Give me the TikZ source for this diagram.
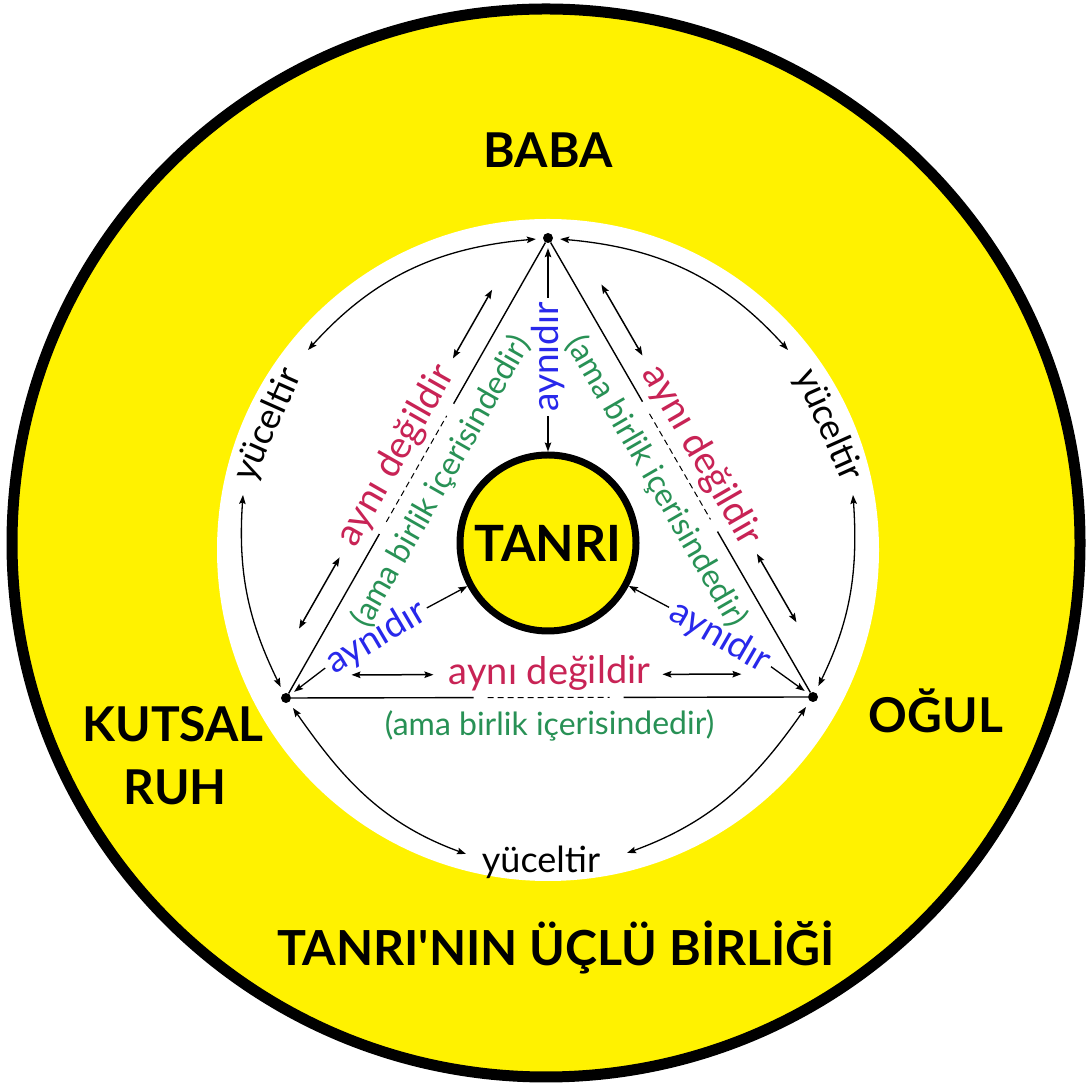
\documentclass[tikz,border=0pt]{standalone}
\usepackage{fontspec}
\setmainfont{Lato}[Ligatures=TeXOff]
\usetikzlibrary{arrows.meta,calc}
\definecolor{cyel}{RGB}{255,242,0}
\definecolor{cred}{RGB}{200,35,85}
\definecolor{cgreen}{RGB}{40,145,85}
\definecolor{cblue}{RGB}{40,40,235}
\tikzset{
  dotv/.style={circle,fill=black,inner sep=0,minimum size=10pt},
  biglbl/.style={font=\fontsize{48}{50}\selectfont\bfseries,inner sep=0},
  redtxt/.style={text=cred,font=\fontsize{38}{40}\selectfont,inner sep=0},
  greentxt/.style={text=cgreen,font=\fontsize{32}{34}\selectfont,inner sep=0},
  bluetxt/.style={text=cblue,font=\fontsize{37}{39}\selectfont,inner sep=4pt},
  ytxt/.style={text=black,font=\fontsize{36}{38}\selectfont,inner sep=0},
  edgeline/.style={line width=1.4pt},
  arcline/.style={line width=1.3pt,<->},
  sidearrow/.style={line width=1.5pt,<->},
  tip/.style={line width=1.3pt,->}
}
\newcommand{\EdgeBlock}[4]{%
  \begin{scope}[shift={($(#1)!0.5!(#2)$)},rotate=#3]
    \node[redtxt,transform shape] (#4r) at (0,24) {aynı değildir};
    \node[greentxt,transform shape] (#4g) at (0,-28) {(ama birlik içerisindedir)};
    \coordinate (#4a1) at (-198,23);
    \coordinate (#4a2) at (-116,23);
    \coordinate (#4a3) at (113,23);
    \coordinate (#4a4) at (192,23);
    \coordinate (#4e1) at (-76,0);
    \coordinate (#4e2) at (-62,0);
    \coordinate (#4e3) at (60,0);
    \coordinate (#4e4) at (74,0);
  \end{scope}
  \draw[edgeline] (#1) -- (#4e1);
  \draw[line width=1pt,dash pattern=on 6pt off 4pt] (#4e2) -- (#4e3);
  \draw[edgeline] (#4e4) -- (#2);
  \draw[sidearrow] (#4a1) -- (#4a2);
  \draw[sidearrow] (#4a3) -- (#4a4);
}
\begin{document}
\begin{tikzpicture}[x=1pt,y=1pt,>={Stealth[length=9pt,width=6.5pt,inset=1.5pt]}]
\useasboundingbox (0,0) rectangle (1092,1086);
\fill[white] (0,0) rectangle (1092,1086);
\draw[line width=11pt,fill=cyel] (546,543) circle[radius=534];
\fill[white] (548,536) circle[radius=331];

% vertices and centre
\node[dotv] (B) at (548,848) {};
\node[dotv] (K) at (286,388) {};
\node[dotv] (O) at (813,389) {};
\node[circle,draw,line width=7pt,fill=cyel,minimum size=176pt,inner sep=0,
      font=\fontsize{50}{52}\selectfont\bfseries] (T) at (548,543) {TANRI};

% big labels
\node[biglbl,anchor=base] (baba) at (548,918) {BABA};
\node[biglbl,anchor=base] (kutsal) at (173,344) {KUTSAL};
\node[biglbl,anchor=base] (ruh) at (175,281) {RUH};
\node[biglbl,anchor=base] (ogul) at (936,353) {OĞUL};
\node[biglbl,anchor=base,font=\fontsize{48.3}{50}\selectfont\bfseries] (title) at (556,120) {TANRI'NIN ÜÇLÜ BİRLİĞİ};

% edges with labels
\EdgeBlock{K}{B}{60.33}{L}
\EdgeBlock{B}{O}{-60.0}{R}
\EdgeBlock{K}{O}{0.1}{D}

% aynidir labels
\node[bluetxt,rotate=90] (at) at (548,729) {aynıdır};
\draw[tip,shorten >=5pt] (at.east) -- (B);
\draw[tip] (at.west) -- (T);
\node[bluetxt,rotate=30.6] (al) at (376,448) {aynıdır};
\draw[tip,shorten >=5pt] (al.west) -- (K);
\draw[tip] (al.east) -- (T);
\node[bluetxt,rotate=-30.2] (ar) at (720,449) {aynıdır};
\draw[tip] (ar.west) -- (T);
\draw[tip,shorten >=5pt] (ar.east) -- (O);

% yuceltir labels and arcs
\node[ytxt,rotate=66] (yl) at (268,661) {yüceltir};
\node[ytxt,rotate=-66] (yr) at (828,661) {yüceltir};
\node[ytxt] (yb) at (541,224) {yüceltir};
\coordinate (yl1) at (308,736);
\coordinate (yl2) at (243,591);
\coordinate (yr1) at (788,736);
\coordinate (yr2) at (853,591);
\coordinate (yb1) at (466,232);
\coordinate (yb2) at (627,233);
\draw[arcline,shorten <=7pt] (B) to[out=185,in=48] (yl1);
\draw[arcline,shorten >=7pt] (yl2) to[out=266,in=116] (K);
\draw[arcline,shorten <=7pt] (B) to[out=-5,in=132] (yr1);
\draw[arcline,shorten >=7pt] (yr2) to[out=274,in=64] (O);
\draw[arcline,shorten <=7pt] (K) to[out=-55,in=160] (yb1);
\draw[arcline,shorten >=7pt] (yb2) to[out=20,in=235] (O);
\end{tikzpicture}
\end{document}
